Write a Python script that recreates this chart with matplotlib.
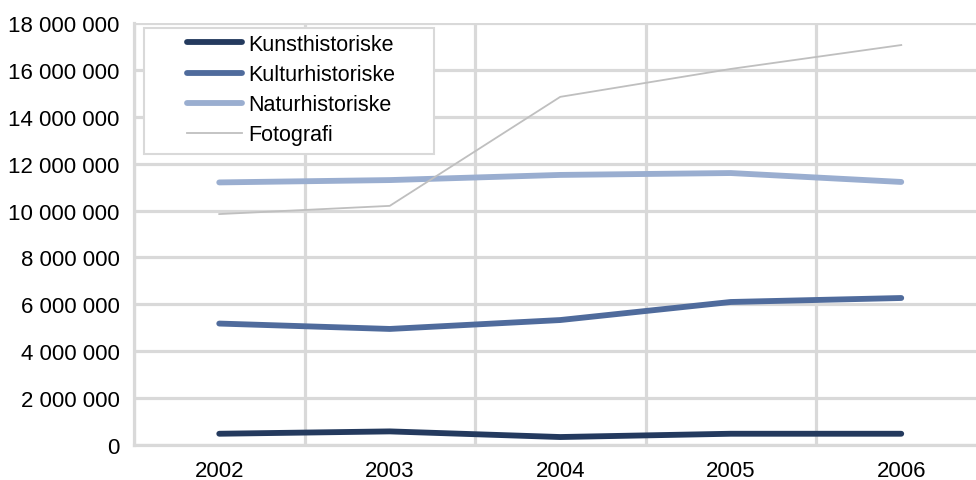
import numpy as np
import matplotlib
matplotlib.use("Agg")
import matplotlib.pyplot as plt
from matplotlib.patches import Rectangle

plt.rcParams['font.family'] = ['Liberation Sans', 'DejaVu Sans']

years = ['2002', '2003', '2004', '2005', '2006']
kunst = [480000, 580000, 340000, 480000, 480000]
kultur = [5180000, 4950000, 5330000, 6100000, 6270000]
natur = [11200000, 11300000, 11520000, 11600000, 11220000]
foto = [9850000, 10200000, 14850000, 16040000, 17060000]

grid_col = '#d9d9d9'

fig = plt.figure(figsize=(9.76, 4.81), dpi=100)
ax = fig.add_axes([134 / 976, 35 / 481, 852.5 / 976, 422 / 481])

x = np.arange(len(years))
ax.plot(x, kunst, color='#243a5e', lw=4.2, solid_capstyle='round', label='Kunsthistoriske', zorder=3)
ax.plot(x, kultur, color='#4f6b9c', lw=4.2, solid_capstyle='round', label='Kulturhistoriske', zorder=3)
ax.plot(x, natur, color='#9aaed0', lw=4.2, solid_capstyle='round', label='Naturhistoriske', zorder=3)
ax.plot(x, foto, color='#bfbfbf', lw=1.3, label='Fotografi', zorder=3)

ax.set_xlim(-0.5, len(years) - 0.5)
ax.set_ylim(0, 18000000)
ax.set_xticks(x)
ax.set_xticklabels(years)
ax.set_xticks(np.arange(-0.5, len(years), 1.0), minor=True)
ax.set_yticks(np.arange(0, 18000001, 2000000))
ax.set_yticklabels([f'{v:,}'.replace(',', ' ') for v in range(0, 18000001, 2000000)])

ax.grid(True, axis='y', which='major', color=grid_col, lw=2.3)
ax.grid(True, axis='x', which='minor', color=grid_col, lw=2.3)
ax.grid(False, axis='x', which='major')
ax.set_axisbelow(True)
ax.tick_params(axis='both', which='both', length=0, labelsize=16, colors='black')
ax.tick_params(axis='y', pad=10.5)
ax.tick_params(axis='x', pad=11)
for s in ['top', 'right']:
    ax.spines[s].set_visible(False)
for s in ['left', 'bottom']:
    ax.spines[s].set_color(grid_col)
    ax.spines[s].set_linewidth(2.3)

# legend box drawn separately so the handles can sit further in
box = Rectangle((144 / 976, 1 - 155 / 481), 290 / 976, 126 / 481, transform=fig.transFigure,
                facecolor='white', edgecolor=grid_col, lw=1.5, zorder=4, clip_on=False)
ax.add_patch(box)
leg = ax.legend(loc='upper left', bbox_to_anchor=(187 / 976, 1 - 35 / 481),
                bbox_transform=fig.transFigure, fontsize=15.5, frameon=False,
                handlelength=2.55, handletextpad=0.3,
                borderpad=0, labelspacing=0.42, borderaxespad=0)
leg.set_zorder(5)

fig.savefig('out.png', dpi=100)
